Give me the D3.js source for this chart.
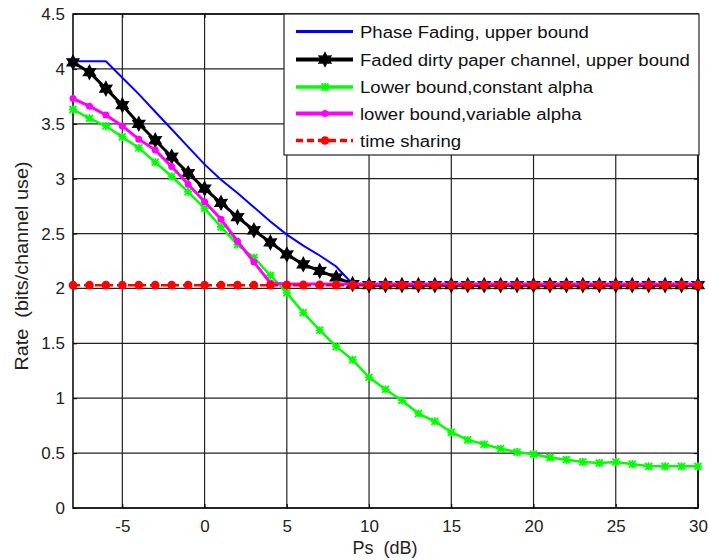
<!DOCTYPE html>
<html><head><meta charset="utf-8">
<script src="https://cdn.jsdelivr.net/npm/d3@7"></script>
<style>body{margin:0;background:#fff}svg{display:block}text{font-family:"Liberation Sans",Arial,sans-serif}</style>
</head><body><svg id="c" width="708" height="560"></svg>
<script>
const psDB = d3.range(-8, 31);
const phaseFadingUpper = [4.07,4.07,4.07,3.92,3.77,3.61,3.45,3.29,3.13,2.99,2.87,2.74,2.61,2.49,2.39,2.30,2.20,2.04,2.03,2.03,2.03,2.03,2.03,2.03,2.03,2.03,2.03,2.03,2.03,2.03,2.03,2.03,2.03,2.03,2.03,2.03,2.03,2.03,2.03];
const fadedDirtyPaper = [4.06,3.97,3.82,3.67,3.50,3.35,3.20,3.05,2.91,2.78,2.65,2.53,2.42,2.31,2.22,2.16,2.10,2.04,2.03,2.03,2.03,2.03,2.03,2.03,2.03,2.03,2.03,2.03,2.03,2.03,2.03,2.03,2.03,2.03,2.03,2.03,2.03,2.03,2.03];
const lowerConstAlpha = [3.63,3.55,3.48,3.38,3.28,3.15,3.02,2.88,2.73,2.56,2.40,2.28,2.12,1.96,1.78,1.62,1.47,1.35,1.19,1.08,0.98,0.86,0.79,0.69,0.62,0.58,0.54,0.51,0.49,0.46,0.44,0.42,0.41,0.42,0.40,0.38,0.38,0.38,0.38];
const lowerVarAlpha = [3.73,3.66,3.58,3.48,3.36,3.26,3.11,2.95,2.79,2.63,2.43,2.24,2.05,2.04,2.04,2.04,2.04,2.04,2.04,2.04,2.04,2.04,2.04,2.04,2.04,2.04,2.04,2.04,2.04,2.04,2.04,2.04,2.04,2.04,2.04,2.04,2.04,2.04,2.04];
const timeSharing = psDB.map(()=>2.03);
const xTicks = [-5,0,5,10,15,20,25,30];
const yTicks = [0,0.5,1,1.5,2,2.5,3,3.5,4,4.5];
const legendLabels = ["Phase Fading, upper bound","Faded dirty paper channel, upper bound","Lower bound,constant alpha","lower bound,variable alpha","time sharing"];

const svg = d3.select("#c");
const L=73,R=698,T=14,B=508;
const x = d3.scaleLinear().domain([-8,30]).range([L,R]);
const y = d3.scaleLinear().domain([0,4.5]).range([B,T]);

// grid
const g = svg.append("g");
g.selectAll(".gx").data(xTicks).join("line").attr("x1",d=>x(d)).attr("x2",d=>x(d)).attr("y1",T).attr("y2",B).attr("stroke","#222").attr("stroke-width",1.2);
g.selectAll(".gy").data(yTicks).join("line").attr("x1",L).attr("x2",R).attr("y1",d=>y(d)).attr("y2",d=>y(d)).attr("stroke","#222").attr("stroke-width",1.2);

// axes
const xa = svg.append("g").attr("transform",`translate(0,${B})`).call(d3.axisBottom(x).tickValues(xTicks).tickSize(-4).tickPadding(12).tickFormat(d=>String(d)));
const ya = svg.append("g").attr("transform",`translate(${L},0)`).call(d3.axisLeft(y).tickValues(yTicks).tickSize(-4).tickPadding(8).tickFormat(d=>String(d)));
[xa,ya].forEach(a=>{a.select(".domain").remove();a.selectAll("text").attr("font-size",17).attr("fill","#222").attr("font-family","'Liberation Sans',Arial,sans-serif");a.selectAll("line").attr("stroke","#000");});
svg.append("g").attr("transform",`translate(0,${T})`).call(d3.axisTop(x).tickValues(xTicks).tickSize(-4).tickFormat("")).call(a=>{a.select(".domain").remove();a.selectAll("line").attr("stroke","#000");});
svg.append("g").attr("transform",`translate(${R},0)`).call(d3.axisRight(y).tickValues(yTicks).tickSize(-4).tickFormat("")).call(a=>{a.select(".domain").remove();a.selectAll("line").attr("stroke","#000");});
svg.append("rect").attr("x",L).attr("y",T).attr("width",R-L).attr("height",B-T).attr("fill","none").attr("stroke","#000").attr("stroke-width",1.5);

// labels
svg.append("text").attr("x",385).attr("y",554).attr("text-anchor","middle").attr("font-size",18).attr("fill","#222").text("Ps\u00a0\u00a0(dB)");
svg.append("text").attr("transform","translate(28,266) rotate(-90) scale(1.1,1)").attr("text-anchor","middle").attr("font-size",18).attr("fill","#222").text("Rate\u00a0\u00a0(bits/channel use)");

svg.append("clipPath").attr("id","cp").append("rect").attr("x",L-8).attr("y",T-8).attr("width",R-L+16).attr("height",B-T+16);
const plot = svg.append("g").attr("clip-path","url(#cp)");
const line = d3.line().x((d,i)=>x(psDB[i])).y(d=>y(d));

function hexagram(r){const p=[];for(let k=0;k<12;k++){const a=Math.PI/2+k*Math.PI/6;const rr=k%2?r*0.55:r;p.push([rr*Math.cos(a),-rr*Math.sin(a)]);}return "M"+p.map(q=>q.join(",")).join("L")+"Z";}
const markers = {
  star:(s,c)=>s.append("path").attr("d",hexagram(7)).attr("fill",c).attr("stroke",c).attr("stroke-width",1.2),
  xmark:(s,c)=>s.append("path").attr("d","M-3.5,-3.5L3.5,3.5M-3.5,3.5L3.5,-3.5M0,-4L0,4M-4,0L4,0").attr("stroke",c).attr("stroke-width",1.8).attr("fill","none"),
  dot:(s,c)=>s.append("circle").attr("r",3.5).attr("fill",c),
  bigdot:(s,c)=>s.append("circle").attr("r",4.3).attr("fill",c)
};
const series = [
  {v:phaseFadingUpper,c:"#0000ff",w:2,m:null},
  {v:fadedDirtyPaper,c:"#000000",w:3,m:"star"},
  {v:lowerConstAlpha,c:"#00ff00",w:2.5,m:"xmark"},
  {v:lowerVarAlpha,c:"#ff00ff",w:3,m:"dot"},
  {v:timeSharing,c:"#ff0000",w:2.5,m:"bigdot",dash:"7,4"}
];
series.forEach(s=>{
  plot.append("path").datum(s.v).attr("d",line).attr("fill","none").attr("stroke",s.c).attr("stroke-width",s.w).attr("stroke-dasharray",s.dash||null);
  if(s.m){plot.selectAll(null).data(s.v).join("g").attr("transform",(d,i)=>`translate(${x(psDB[i])},${y(d)})`).each(function(){markers[s.m](d3.select(this),s.c);});}
});

// legend
const lg = svg.append("g");
lg.append("rect").attr("x",284).attr("y",14).attr("width",415).attr("height",141).attr("fill","#fff").attr("stroke","#222").attr("stroke-width",1.2);
const rows=[31.5,59.5,87,113.5,140.5];
series.forEach((s,i)=>{
  const r=lg.append("g").attr("transform",`translate(0,${rows[i]})`);
  r.append("line").attr("x1",296).attr("x2",353).attr("stroke",s.c).attr("stroke-width",s.w+1).attr("stroke-dasharray",s.dash||null);
  if(s.m){const mg=r.append("g").attr("transform","translate(325,0)");markers[s.m](mg,s.c);}
  r.append("text").attr("transform","translate(360,6) scale(1.16,1)").attr("font-size",16).attr("fill","#111").text(legendLabels[i]);
});
</script></body></html>
